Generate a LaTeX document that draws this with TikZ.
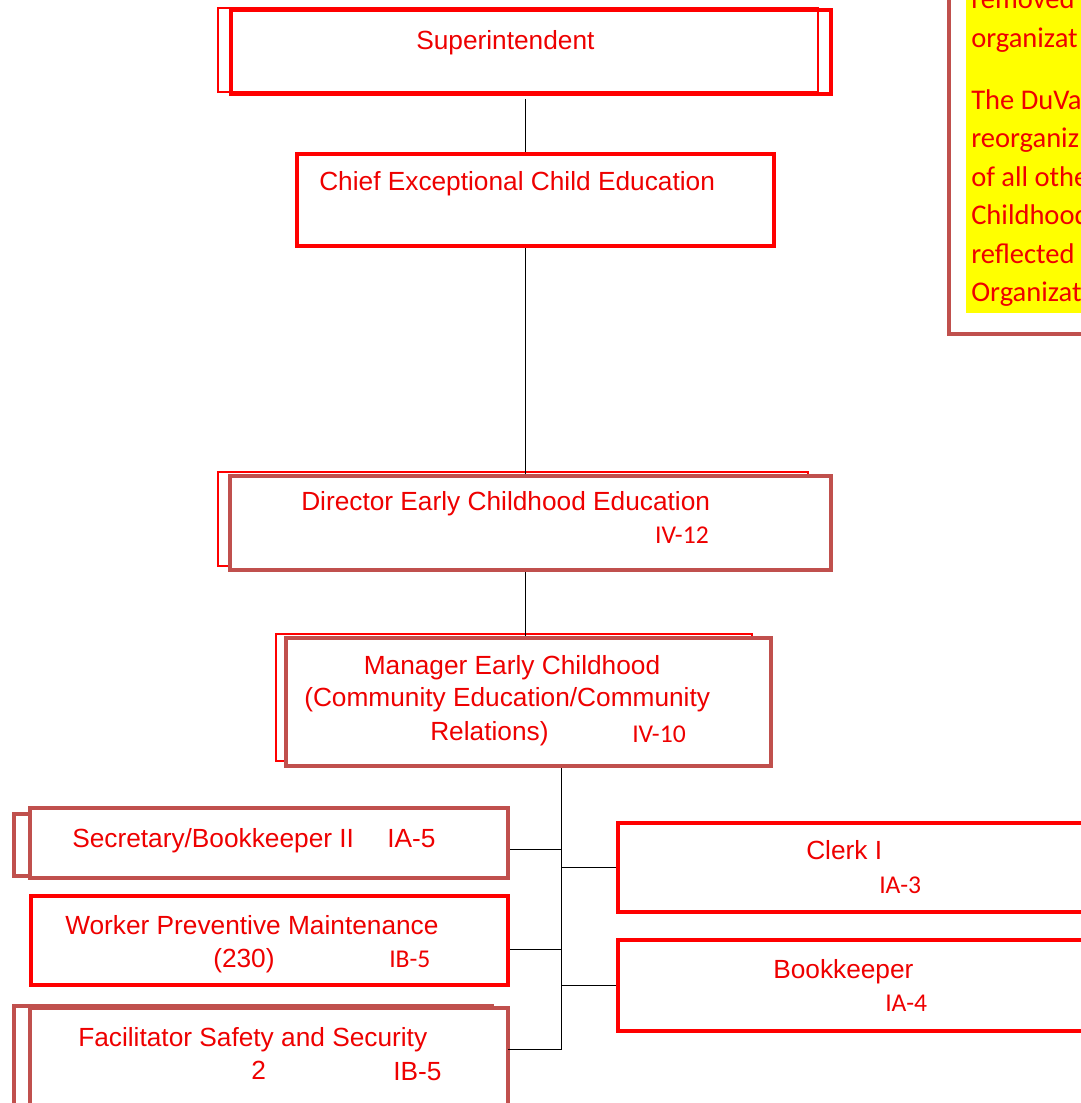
\documentclass[tikz,border=0pt]{standalone}
\usepackage{fontspec}
\setmainfont{Liberation Sans}
\newfontfamily\calfont{Carlito}
\usetikzlibrary{fit}
\definecolor{ored}{HTML}{FF0000}
\definecolor{obrown}{HTML}{C0504D}
\definecolor{txtred}{HTML}{EE0000}
\definecolor{hilite}{HTML}{FFFF00}
\begin{document}
\begin{tikzpicture}[x=0.75pt,y=-0.75pt,
  redbox/.style={draw=ored, line width=3pt, inner sep=0pt},
  brownbox/.style={draw=obrown, fill=white, line width=3.4pt, inner sep=0pt},
  backred/.style={draw=ored, line width=1.1pt, inner sep=0pt},
  backbrown/.style={draw=obrown, line width=3pt, inner sep=0pt},
  lbl/.style={text=txtred, inner sep=0pt, font=\fontsize{19.7}{23}\selectfont},
  grade/.style={text=txtred, inner sep=0pt, font=\calfont\fontsize{19.2}{23}\selectfont},
  note/.style={text=txtred, inner sep=0pt, font=\calfont\fontsize{21.4}{29}\selectfont},
  conn/.style={draw=black, line width=0.75pt}]
\useasboundingbox (0,0) rectangle (1081,1103);
\clip (0,0) rectangle (1081,1103);
\fill[white] (0,0) rectangle (1081,1103);

% reference points for the vertical spine and the branch trunk
\coordinate (spine) at (525,0);
\coordinate (trunk) at (561,0);

% side note (highlighted text in a framed box)
\fill[hilite] (966,-5) rectangle (1090,313);
\node[brownbox, fill=none, fit={(949,-30)(1120,334)}] (notebox) {};
\node[note, anchor=base west] (n1) at (971,8) {removed};
\node[note, anchor=base west] (n2) at (971,47) {organizat};
\node[note, anchor=base west] (n3) at (971,109) {The DuVa};
\node[note, anchor=base west] (n4) at (971,147.5) {reorganiz};
\node[note, anchor=base west] (n5) at (971,186) {of all othe};
\node[note, anchor=base west] (n6) at (971,224.5) {Childhood};
\node[note, anchor=base west] (n7) at (971,263) {reflected};
\node[note, anchor=base west] (n8) at (971,301.5) {Organizat};

% Superintendent
\node[backred, fit={(218,8)(818,92)}] (supback) {};
\node[redbox, fit={(231,10)(831,94)}] (sup) {};
\node[lbl, anchor=base west] (suptxt) at (416,49) {Superintendent};

% Chief Exceptional Child Education
\node[redbox, fit={(297,154)(774,246)}] (chief) {};
\node[lbl, anchor=base west] (chieftxt) at (319,190) {Chief Exceptional Child Education};

% Director Early Childhood Education
\node[backred, fit={(218,472)(808,566)}] (dirback) {};
\node[brownbox, fit={(230,476)(831,570)}] (dir) {};
\node[lbl, anchor=base west] (dirtxt) at (301,510) {Director Early Childhood Education};
\node[grade, anchor=base east] (dirgr) at (709,543) {IV-12};

% Manager Early Childhood
\node[backred, fit={(276,634)(752,761)}] (mgrback) {};
\node[brownbox, fit={(286,638)(771,766)}] (mgr) {};
\node[lbl, anchor=base] (mgrt1) at (512,674) {Manager Early Childhood};
\node[lbl, anchor=base west] (mgrt2) at (304,706) {(Community Education/Community};
\node[lbl, anchor=base west] (mgrt3) at (430,740) {Relations)};
\node[grade, anchor=base west] (mgrgr) at (632,742) {IV-10};

% Secretary/Bookkeeper II
\node[backbrown, fit={(14,814)(495,876)}] (secback) {};
\node[brownbox, fit={(30,808)(508,878)}] (sec) {};
\node[lbl, anchor=base west] (sectxt) at (72,847) {Secretary/Bookkeeper II};
\node[lbl, anchor=base west] (secgr) at (387,847) {IA-5};

% Worker Preventive Maintenance
\node[redbox, fit={(31,896)(508,985)}] (wkr) {};
\node[lbl, anchor=base west] (wkrt1) at (65,934) {Worker Preventive Maintenance};
\node[lbl, anchor=base west] (wkrt2) at (213,967) {(230)};
\node[grade, anchor=base west] (wkrgr) at (389,967) {IB-5};

% Facilitator Safety and Security
\node[backbrown, fit={(14,1006)(492,1130)}] (facback) {};
\node[brownbox, fit={(30,1008)(508,1130)}] (fac) {};
\node[lbl, anchor=base west] (fact1) at (78,1046) {Facilitator Safety and Security};
\node[lbl, anchor=base west] (fact2) at (251,1079) {2};
\node[lbl, anchor=base west] (facgr) at (393,1080) {IB-5};

% Clerk I
\node[redbox, fit={(618,823)(1120,912)}] (clerk) {};
\node[lbl, anchor=base west] (clerkt) at (806,859) {Clerk I};
\node[grade, anchor=base west] (clerkgr) at (879,893) {IA-3};

% Bookkeeper
\node[redbox, fit={(618,940)(1120,1031)}] (bkp) {};
\node[lbl, anchor=base west] (bkpt) at (773,978) {Bookkeeper};
\node[grade, anchor=base west] (bkpgr) at (885,1011) {IA-4};

% vertical chain
\draw[conn] ([yshift=-2.2pt]sup.south -| spine) -- (chief.north -| spine);
\draw[conn] (chief.south -| spine) -- (dir.north -| spine);
\draw[conn] (dir.south -| spine) -- (mgr.north -| spine);

% branch trunk below the manager
\coordinate (facport) at (508,1049);
\draw[conn] (mgr.south -| trunk) -- (facport -| trunk) -- (facport);
\draw[conn] ([yshift=-4.5pt]sec.east) -- ([yshift=-4.5pt]sec.east -| trunk);
\draw[conn] ([yshift=-6.4pt]wkr.east) -- ([yshift=-6.4pt]wkr.east -| trunk);
\draw[conn] (clerk.west -| trunk) -- (clerk.west);
\draw[conn] (bkp.west -| trunk) -- (bkp.west);
\end{tikzpicture}
\end{document}
